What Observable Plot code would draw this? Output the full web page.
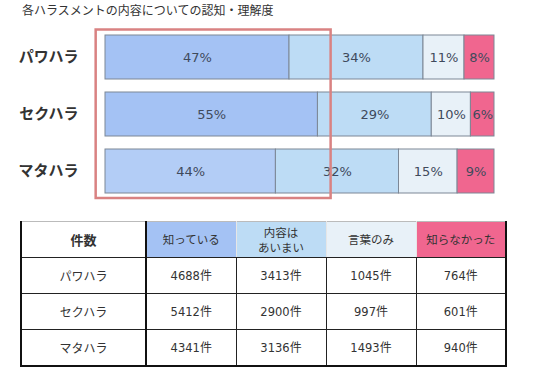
<!DOCTYPE html>
<html><head><meta charset="utf-8">
<script src="https://cdn.jsdelivr.net/npm/d3@7"></script>
<script src="https://cdn.jsdelivr.net/npm/@observablehq/plot@0.6"></script>
<style>
body{margin:0;background:#fff;font-family:"Noto Sans CJK JP",sans-serif;color:#333;width:536px;height:371px;overflow:hidden}
#title{height:20px;line-height:20px;font-size:12px;padding-left:22px;color:#333}
table{border-collapse:collapse;margin-left:20px;margin-top:11px;font-size:12px;color:#333;table-layout:fixed}
td,th{height:35px;text-align:center;padding:0;border:1px solid #222;font-weight:normal;line-height:15px}
th{border-left-color:#e6e6e6;border-right-color:#e6e6e6;border-top:1px solid #bbb;font-size:11.5px}
th.corner{font-weight:bold;font-size:13px;border-left:2px solid #111;border-right:2px solid #111}
td.rowh{border-left:2px solid #111;border-right:2px solid #111}
tr:last-child td{border-bottom:2px solid #111}
td:last-child,th:last-child{border-right:2px solid #111}
.num{font-family:"DejaVu Sans",sans-serif;font-size:11.5px}
</style></head>
<body>
<div id="title"></div>
<div id="chart"></div>
<div id="tbl"></div>
<script>
const titleText = "各ハラスメントの内容についての認知・理解度";
const harassments = ["パワハラ", "セクハラ", "マタハラ"];
const categories = ["知っている", "内容はあいまい", "言葉のみ", "知らなかった"];
const headerLabels = ["知っている", "内容は<br>あいまい", "言葉のみ", "知らなかった"];
const countsPawa = [4688, 3413, 1045, 764];
const countsSeku = [5412, 2900, 997, 601];
const countsMata = [4341, 3136, 1493, 940];
const colors = ["#a4c2f4", "#bddcf5", "#e8f1f8", "#f0668f"];
const mataFirstColor = "#b3cdf6";
const highlightX = [-0.024, 0.58];

document.getElementById("title").textContent = titleText;

const allCounts = [countsPawa, countsSeku, countsMata];
const rows = [];
harassments.forEach((h, i) => {
  const total = d3.sum(allCounts[i]);
  categories.forEach((c, j) => {
    rows.push({h, c, j, count: allCounts[i][j], pct: Math.round(allCounts[i][j] / total * 100),
      fill: (i === 2 && j === 0) ? mataFirstColor : colors[j]});
  });
});

const highlight = (index, scales, values, dim) => {
  const y = scales.y;
  const bw = y.bandwidth();
  const x1 = scales.x(highlightX[0]), x2 = scales.x(highlightX[1]);
  const y1 = y(harassments[0]) - 5.5, y2 = y(harassments[harassments.length - 1]) + bw + 5;
  const r = d3.create("svg:rect").attr("x", x1).attr("y", y1).attr("width", x2 - x1).attr("height", y2 - y1)
    .attr("fill", "none").attr("stroke", "#d98282").attr("stroke-width", 2.5);
  return r.node();
};

const chart = Plot.plot({
  width: 536, height: 190,
  marginLeft: 105, marginRight: 42, marginTop: 2, marginBottom: 3,
  style: {fontFamily: "'Noto Sans CJK JP', sans-serif", background: "#fff"},
  x: {domain: [0, 1], axis: null},
  y: {domain: harassments, padding: 0.22, label: null},
  marks: [
    Plot.barX(rows, Plot.stackX({x: "count", y: "h", fill: "fill", order: "j", offset: "normalize", stroke: "#7c8796", strokeWidth: 1})),
    Plot.text(rows, Plot.stackX({x: "count", y: "h", z: "c", order: "j", offset: "normalize", text: d => d.pct + "%",
      fill: "#3f4a5c", fontSize: 13, fontFamily: "DejaVu Sans, sans-serif"})),
    Plot.axisY({tickSize: 0, tickPadding: 27, fontSize: 15, fontWeight: "bold", fill: "#333", label: null}),
    highlight
  ]
});
document.getElementById("chart").appendChild(chart);

// table
let html = '<table><colgroup><col style="width:125px">' + categories.map(() => '<col style="width:90px">').join("") + '</colgroup>';
html += '<tr><th class="corner">件数</th>' + headerLabels.map((l, j) => `<th style="background:${colors[j]}">${l}</th>`).join("") + '</tr>';
harassments.forEach((h, i) => {
  html += `<tr><td class="rowh">${h}</td>` + allCounts[i].map(v => `<td><span class="num">${v}</span>件</td>`).join("") + '</tr>';
});
html += '</table>';
document.getElementById("tbl").innerHTML = html;
</script>
</body></html>
